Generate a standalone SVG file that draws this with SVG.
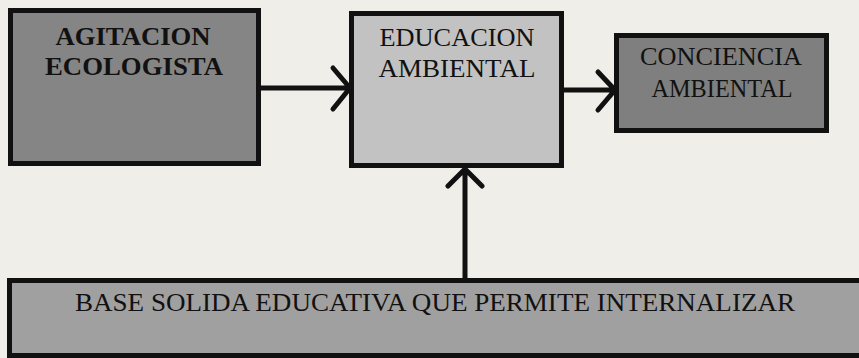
<svg xmlns="http://www.w3.org/2000/svg" width="859" height="358" viewBox="0 0 859 358">
<style>
.box{stroke:#111;stroke-width:5}
.t{font-family:"Liberation Serif","Times New Roman",serif;font-size:25px;fill:#111;text-anchor:middle}
.b{font-weight:bold}
.c{fill:none;stroke:#111;stroke-width:5;stroke-linecap:round;stroke-linejoin:round}
</style>
<rect width="859" height="358" fill="#efeee9"/>
<g id="agitacion">
<rect class="box" x="10.5" y="10.5" width="248" height="153" fill="#858585"/>
<text class="t b" x="133" y="45" textLength="155" lengthAdjust="spacingAndGlyphs">AGITACION</text>
<text class="t b" x="134" y="75" textLength="178" lengthAdjust="spacingAndGlyphs">ECOLOGISTA</text>
</g>
<g id="educacion">
<rect class="box" x="351.5" y="13.5" width="210" height="152" fill="#c2c2c2"/>
<text class="t" x="457" y="46" font-size="26" textLength="155" lengthAdjust="spacingAndGlyphs">EDUCACION</text>
<text class="t" x="457" y="77" textLength="157" lengthAdjust="spacingAndGlyphs">AMBIENTAL</text>
</g>
<g id="conciencia">
<rect class="box" x="616.5" y="35.5" width="210" height="95" fill="#7f7f7f"/>
<text class="t" x="721" y="65" font-size="22" textLength="162" lengthAdjust="spacingAndGlyphs">CONCIENCIA</text>
<text class="t" x="722" y="97" font-size="22" textLength="141" lengthAdjust="spacingAndGlyphs">AMBIENTAL</text>
</g>
<g id="base">
<rect class="box" x="9.5" y="280.5" width="860" height="75" fill="#a0a0a0"/>
<text class="t" x="435" y="311" font-size="24" textLength="720" lengthAdjust="spacingAndGlyphs">BASE SOLIDA EDUCATIVA QUE PERMITE INTERNALIZAR</text>
</g>
<g id="connectors">
<path class="c" d="M261 88 H349 M333 68 L350 88 L333 109"/>
<path class="c" d="M564 90 H614 M598 72 L615 90 L598 110"/>
<path class="c" d="M465 278 V169 M448 186 L465 169 L482 186"/>
</g>
</svg>
